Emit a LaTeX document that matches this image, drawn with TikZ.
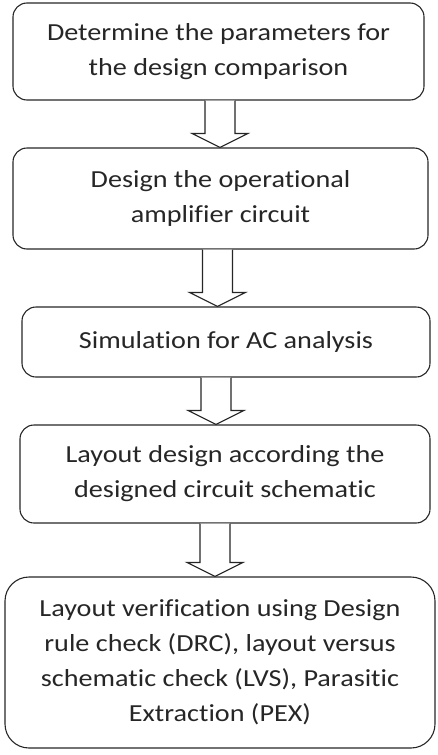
\documentclass[tikz,border=0pt]{standalone}
\usepackage{fontspec}
\setmainfont[FakeStretch=1.15,RawFeature=-liga]{Carlito}
\usetikzlibrary{calc}
\tikzset{
  box/.style={draw=black!85, line width=1.1pt, rounded corners=14pt, align=center,
    inner sep=0pt, text=black!85, font=\fontsize{24.5}{35}\selectfont},
  blk/.style={draw=black!85, line width=1.1pt, line join=miter, fill=white}
}
\newcommand{\blockarr}[3]{%
  \draw[blk] ($(#1.south -| #3)+(-15,0)$) -- ($(#2.north -| #3)+(-15,-14)$)
    -- ($(#2.north -| #3)+(-28,-14)$) -- (#2.north -| #3)
    -- ($(#2.north -| #3)+(28,-14)$) -- ($(#2.north -| #3)+(15,-14)$)
    -- ($(#1.south -| #3)+(15,0)$);
}
\begin{document}
\begin{tikzpicture}[x=1pt,y=-1pt]
\useasboundingbox (0,0) rectangle (438,755);
\node[box, minimum width=411pt, minimum height=97pt] (b1) at (218.5,51.5) {Determine the parameters for\\the design comparison};
\node[box, minimum width=415pt, minimum height=101pt] (b2) at (220.5,198.5) {Design the operational\\amplifier circuit};
\node[box, minimum width=408pt, minimum height=70pt] (b3) at (226,342) {\raisebox{4pt}{Simulation for AC analysis}};
\node[box, minimum width=410pt, minimum height=98pt] (b4) at (225,474) {Layout design according the\\designed circuit schematic};
\node[box, rounded corners=24pt, minimum width=430pt, minimum height=171pt] (b5) at (220,662.5) {Layout verification using Design\\rule check (DRC), layout versus\\schematic check (LVS), Parasitic\\Extraction (PEX)};
\coordinate (x1) at (220,0);
\coordinate (x2) at (217.5,0);
\coordinate (x3) at (216,0);
\coordinate (x4) at (215,0);
\blockarr{b1}{b2}{x1}
\blockarr{b2}{b3}{x2}
\blockarr{b3}{b4}{x3}
\blockarr{b4}{b5}{x4}
\end{tikzpicture}
\end{document}
